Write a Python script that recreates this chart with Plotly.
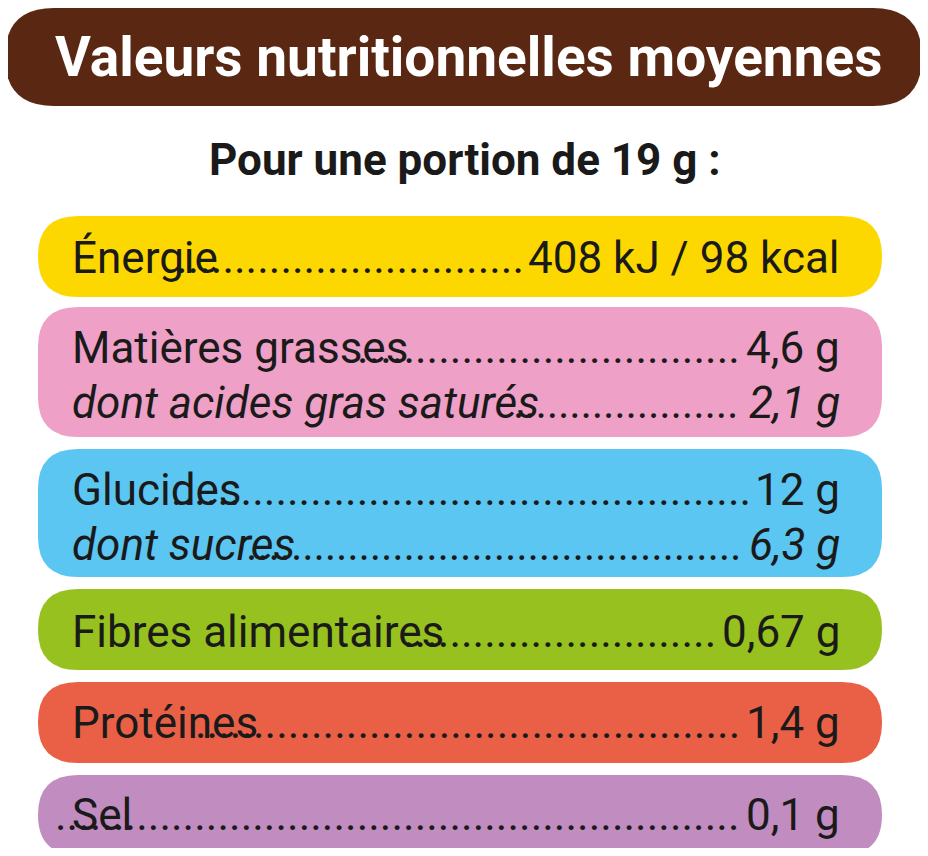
import plotly.graph_objects as go

title = "Valeurs nutritionnelles moyennes"
subtitle = "Pour une portion de 19 g :"
labels = ["Énergie", "Matières grasses", "dont acides gras saturés", "Glucides", "dont sucres",
          "Fibres alimentaires", "Protéines", "Sel"]
values = ["408 kJ / 98 kcal", "4,6 g", "2,1 g", "12 g", "6,3 g", "0,67 g", "1,4 g", "0,1 g"]
italic = [False, False, True, False, True, False, False, False]
row_box = [0, 1, 1, 2, 2, 3, 4, 5]
boxes_y = [(216, 297), (307, 437), (449, 577), (589, 670), (682, 763), (775, 855)]
box_colors = ["#fdd800", "#eea0c6", "#5bc6f1", "#96c11f", "#ea6046", "#c18cbf"]
text_y = [258, 348, 403, 490, 545, 632, 723, 815]
# layout helpers (approximate rendered widths at font size 40)
value_w40 = [283, 86, 86, 76, 84, 108, 86, 86]
dot_counts = [30, 33, 20, 50, 44, 27, 47, 59]

def rpath(x0, y0, x1, y1, r):
    return (f"M{x0+r},{y0} L{x1-r},{y0} Q{x1},{y0} {x1},{y0+r} L{x1},{y1-r} Q{x1},{y1} {x1-r},{y1} "
            f"L{x0+r},{y1} Q{x0},{y1} {x0},{y1-r} L{x0},{y0+r} Q{x0},{y0} {x0+r},{y0} Z")

fig = go.Figure()
shapes = [dict(type="path", path=rpath(5, 8, 922, 106, 49), fillcolor="#5a2812", line_width=0, layer="below")]
for (y0, y1), c in zip(boxes_y, box_colors):
    shapes.append(dict(type="path", path=rpath(38, y0, 882, y1, 40), fillcolor=c, line_width=0, layer="below"))

ann = [
    dict(x=468, y=57, text=f"<b>{title}</b>", font=dict(size=55, color="white", family="Roboto"), showarrow=False),
    dict(x=465, y=160, text=f"<b>{subtitle}</b>", font=dict(size=44, color="#1a1a1a", family="Roboto"), showarrow=False),
]
fs = 44
sc = fs / 40
for lab, val, it, b, y, vw, n in zip(labels, values, italic, row_box, text_y, value_w40, dot_counts):
    col = box_colors[b]
    wrap = (lambda s: f"<i>{s}</i>") if it else (lambda s: s)
    ann.append(dict(x=840 - vw * sc - 3, y=y, xanchor="right", text=wrap("." * n), showarrow=False,
                    font=dict(size=fs, color="#1a1a1a", family="Roboto")))
    ann.append(dict(x=70, y=y, xanchor="left", text=wrap(lab), showarrow=False,
                    font=dict(size=fs, color="#1a1a1a", family="Roboto")))
    ann.append(dict(x=842, y=y, xanchor="right", text=wrap(val), showarrow=False,
                    font=dict(size=fs, color="#1a1a1a", family="Roboto")))

fig.update_layout(width=920, height=840, margin=dict(l=0, r=0, t=0, b=0),
                  paper_bgcolor="white", plot_bgcolor="white", shapes=shapes, annotations=ann,
                  xaxis=dict(range=[8, 928], visible=False, fixedrange=True),
                  yaxis=dict(range=[848, 8], visible=False, fixedrange=True), showlegend=False)
fig.write_html("out.html")
